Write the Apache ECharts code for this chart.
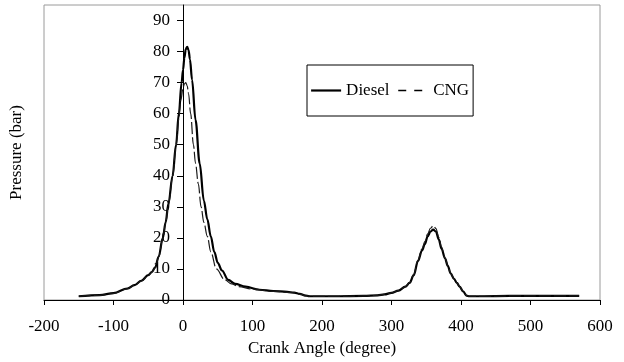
<!DOCTYPE html>
<html>
<head>
<meta charset="utf-8">
<script src="https://cdn.jsdelivr.net/npm/echarts@6/dist/echarts.min.js"></script>
<style>
  html, body { margin: 0; padding: 0; background: #fff; }
  #chart { width: 624px; height: 362px; }
</style>
</head>
<body>
<div id="chart"></div>
<script>
// crank angle (degree) and pressure (bar)
const dieselAngle = [-150, -120, -100, -80, -70, -60, -50, -45, -40, -35, -29, -25, -21, -15, -10,
  -6, -2, 0, 2, 4, 6, 8, 10, 13, 18, 24, 30, 35, 40, 45, 50, 56, 65, 75, 90,
  110, 130, 150, 160, 168, 175, 182, 190, 220, 260, 280, 290, 300, 310, 320,
  326, 332, 338, 344, 348, 352, 356, 360, 364, 368, 372, 377, 381, 385, 390,
  394, 398, 403, 408, 412, 430, 470, 520, 570];
const dieselPressure = [1.2, 1.6, 2.2, 3.7, 4.8, 6.2, 8.0, 9.0, 10.5, 14, 20, 25, 31, 40, 50,
  60, 70, 74, 78, 80.8, 81.5, 80.5, 77.5, 71, 58, 44, 32, 26, 20.5, 15.5, 12, 9.5, 6.5, 5.2, 4.3,
  3.3, 2.9, 2.6, 2.4, 2.0, 1.5, 1.2, 1.2, 1.2, 1.3, 1.5, 1.8, 2.3, 3.0, 4.3,
  5.5, 8, 12.5, 16, 18, 20.5, 22, 22.7, 22, 19.5, 16.5, 13.4, 11, 8.6, 6.8,
  5.5, 4.3, 2.8, 1.4, 1.2, 1.2, 1.3, 1.3, 1.3];

const cngAngle = [-150, -120, -100, -80, -70, -60, -50, -45, -40, -35, -29, -25, -21, -15, -10,
  -6, -3, 0, 2, 4, 6, 8, 11, 15, 18, 22, 26, 30, 35, 40, 48, 60, 70, 80, 100,
  130, 160, 170, 177, 185, 220, 260, 280, 290, 300, 310, 320, 326, 332, 338,
  344, 348, 352, 356, 360, 364, 368, 372, 377, 381, 385, 390, 394, 398, 403,
  408, 412, 430, 470, 520, 570];
const cngPressure = [1.2, 1.5, 2.1, 3.6, 4.7, 6.1, 7.9, 8.9, 10.4, 13.8, 19.8, 24.8, 30.5, 39.5, 49.5,
  58.5, 64.5, 68.3, 69.6, 70, 69, 66.5, 60, 50, 44, 37.5, 30, 25, 20.5, 15.5, 10, 6.5, 5.2, 4.3, 3.5,
  2.8, 2.3, 1.8, 1.3, 1.2, 1.2, 1.3, 1.5, 1.8, 2.3, 3.0, 4.3, 5.6, 8.2, 12.8,
  16.5, 18.8, 21.3, 23.1, 23.9, 23, 20.2, 17, 13.6, 11.1, 8.7, 6.8, 5.5, 4.3, 2.8,
  1.4, 1.2, 1.2, 1.3, 1.3, 1.3];

const yTicks = [0, 10, 20, 30, 40, 50, 60, 70, 80, 90];
const xMin = -200, xMax = 600;

const font = "'Liberation Serif', 'Times New Roman', serif";

const W = 624, gridLeft = 44, gridRight = 24;
// y axis sits at crank angle 0: shift it into the plot by that many pixels
const yAxisShift = (0 - xMin) / (xMax - xMin) * (W - gridLeft - gridRight);

const chart = echarts.init(document.getElementById('chart'));

chart.setOption({
  backgroundColor: '#fff',
  animation: false,
  textStyle: { fontFamily: font, color: '#000' },
  grid: {
    left: gridLeft, right: gridRight, top: 5, bottom: 62,
    outerBoundsMode: 'none',
    containLabel: false,
    show: true,
    borderColor: '#9a9a9a',
    borderWidth: 1,
  },
  legend: {
    left: 307,
    top: 65,
    orient: 'horizontal',
    padding: [17, 4, 17, 3],
    borderColor: '#000',
    borderWidth: 1,
    itemWidth: 30,
    itemHeight: 16,
    itemGap: 8,
    itemStyle: { opacity: 0 },
    textStyle: { fontFamily: font, fontSize: 17, color: '#000' },
    data: [
      { name: 'Diesel', lineStyle: { width: 2.2, color: '#000' } },
      { name: 'CNG', lineStyle: { width: 1.4, color: '#000', type: [8, 8] } },
    ],
  },
  xAxis: {
    type: 'value',
    min: xMin,
    max: xMax,
    interval: 100,
    name: 'Crank Angle (degree)',
    nameLocation: 'middle',
    nameGap: 40,
    nameTextStyle: { fontFamily: font, fontSize: 17, color: '#000' },
    axisLine: { onZero: false, lineStyle: { color: '#000', width: 1 } },
    axisTick: { length: 5, lineStyle: { color: '#000' } },
    axisLabel: { margin: 18, fontFamily: font, fontSize: 17, color: '#000' },
    splitLine: { show: false },
  },
  yAxis: {
    type: 'value',
    min: 0,
    max: 95,
    position: 'left',
    offset: -yAxisShift,
    name: 'Pressure (bar)',
    nameLocation: 'middle',
    nameGap: 158,
    nameTextStyle: { fontFamily: font, fontSize: 17, color: '#000' },
    axisLine: { show: true, onZero: false, lineStyle: { color: '#000', width: 1 } },
    axisTick: { show: true, length: 6, customValues: yTicks, lineStyle: { color: '#000' } },
    axisLabel: { margin: 13, fontFamily: font, fontSize: 17, color: '#000', customValues: yTicks },
    splitLine: { show: false },
  },
  series: [
    {
      name: 'Diesel',
      type: 'line',
      data: dieselAngle.map((a, i) => [a, dieselPressure[i]]),
      showSymbol: false,
      symbol: 'none',
      smooth: 0.35,
      smoothMonotone: 'x',
      lineStyle: { color: '#000', width: 2.2 },
      itemStyle: { color: '#000' },
      z: 2,
    },
    {
      name: 'CNG',
      type: 'line',
      data: cngAngle.map((a, i) => [a, cngPressure[i]]),
      showSymbol: false,
      symbol: 'none',
      smooth: 0.35,
      smoothMonotone: 'x',
      lineStyle: { color: '#1a1a1a', width: 1.2, type: [12, 3] },
      itemStyle: { color: '#000' },
      z: 3,
    },
  ],
});
</script>
</body>
</html>
